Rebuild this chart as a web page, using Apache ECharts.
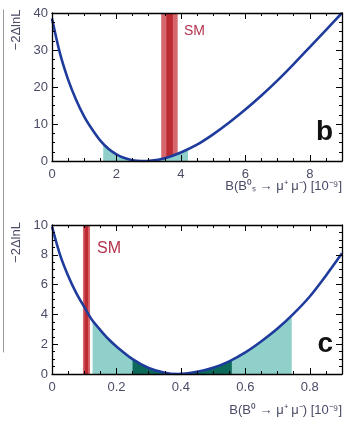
<!DOCTYPE html>
<html><head><meta charset="utf-8">
<script src="https://cdn.jsdelivr.net/npm/echarts@6/dist/echarts.min.js"></script>
<style>html,body{margin:0;padding:0;background:#fff}#c{width:349px;height:424px}</style>
</head><body><div id="c"></div>
<script>
// Panel b: -2ΔlnL vs B(Bs0 -> mu+ mu-) [1e-9]
const bsX = [0,0.25,0.5,0.75,1.0,1.25,1.5,1.75,2.0,2.25,2.5,2.78,3.1,3.5,4.0,4.5,5.0,5.5,6.0,6.5,7.0,7.5,8.0,8.5,9.0];
const bsY = [38.5,29,22,16.5,12,8.5,5.5,3.3,1.8,0.8,0.2,0,0.15,0.75,2.3,4.4,7.2,10.4,13.9,17.7,21.8,26.2,30.8,35.4,40];
const bsBand = [1.59, 4.22];          // shaded interval (x)
const bsBandEdgeY = [4.7, 3.2];       // curve height at the band edges (read)
const bsSM = [3.39, 3.90];
const bsSMcore = [3.55, 3.75];

// Panel c: -2ΔlnL vs B(B0 -> mu+ mu-) [1e-9]
const bdX = [0,0.025,0.05,0.075,0.1,0.125,0.15,0.175,0.2,0.25,0.3,0.35,0.39,0.45,0.5,0.55,0.6,0.65,0.7,0.75,0.8,0.85,0.9];
const bdY = [9.9,8.0,6.6,5.45,4.5,3.6,2.95,2.35,1.85,1.0,0.4,0.08,0,0.15,0.42,0.85,1.45,2.2,3.05,4.05,5.2,6.6,8.1];
const bdBand2 = [0.126, 0.744];       // light band
const bdBand2EdgeY = [3.55, 3.95];
const bdBand1 = [0.25, 0.558];        // dark band
const bdBand1EdgeY = [1.0, 0.95];
const bdSM = [0.096, 0.118];
const bdSMcore = [0.101, 0.112];

const xTicksB = [0, 9, 2];   // min, max, interval
const yTicksB = [0, 40, 10];
const xTicksC = [0, 0.9, 0.2];
const yTicksC = [0, 10, 2];

const yTitle = '\u22122\u0394lnL';
const xTitleB = 'B(B\u2070\u209B \u2192 \u03BC\u207A \u03BC\u207B) [10\u207B\u2079]';
const xTitleC = 'B(B\u2070 \u2192 \u03BC\u207A \u03BC\u207B) [10\u207B\u2079]';

const FONT = 'Liberation Sans, Arial, Helvetica, sans-serif';
const LBL = '#4a4c66';
const CURVE = '#1f3c9c';
const CYAN = '#8fd0cb';
const DARK = '#0d6a5b';
const RED_L = '#d6676c';
const RED_D = '#bc2a32';

function pairs(xs, ys){ return xs.map((x,i)=>[x, ys[i]]); }
function band(xs, ys, rng, edgeY){
  const inner = pairs(xs, ys).filter(p => p[0] > rng[0] && p[0] < rng[1]);
  return [[rng[0], edgeY[0]]].concat(inner, [[rng[1], edgeY[1]]]);
}
// full-height vertical band: spans the y axis from its min to its max
function vband(rng, yt){ return [[rng[0], yt[1]], [rng[1], yt[1]]]; }

function ax(grid, t, pos, labels, isX){
  const a = {type:'value', gridIndex:grid, position:pos, min:t[0], max:t[1], interval:t[2], z:10,
    axisLine:{show:true, onZero:false, lineStyle:{color:'#000', width:1.3}},
    axisTick:{show:true, inside:true, length:6, lineStyle:{color:'#000', width:1}},
    minorTick:{show:true, splitNumber:4, length:3, lineStyle:{color:'#000', width:1}},
    splitLine:{show:false},
    axisLabel: labels ? {show:true, margin:isX?7:4, color:LBL, fontFamily:FONT, fontSize:13, showMaxLabel:isX?false:true} : {show:false}
  };
  if (!isX && labels) {
    a.name = yTitle; a.nameLocation = 'middle'; a.nameRotate = 90; a.nameGap = 28;
    a.nameTextStyle = {color:LBL, fontFamily:FONT, fontSize:13, padding:[0,0,0,114]};
  }
  return a;
}
function ttl(text, pos, size, color, weight){
  return Object.assign({text:text, padding:0, itemGap:0,
    textStyle:{fontFamily:FONT, fontSize:size, color:color, fontWeight:weight||'normal'}}, pos);
}
function area(xi, yi, data, color, z){
  return {type:'line', xAxisIndex:xi, yAxisIndex:yi, data:data, showSymbol:false, z:z, silent:true,
    lineStyle:{width:0, opacity:0}, areaStyle:{color:color, opacity:1}};
}
function smoothArea(xi, yi, data, color, z){
  const s = area(xi, yi, data, color, z); s.smooth = 0.3; return s;
}

const chart = echarts.init(document.getElementById('c'), null, {renderer:'canvas'});
chart.setOption({
  animation:false,
  title:[
    ttl(xTitleB, {right:7, top:180}, 13, LBL),
    ttl(xTitleC, {right:7, top:404}, 13, LBL),
    ttl('SM', {left:184, top:24}, 14, '#b2334b'),
    ttl('SM', {left:97, top:241}, 16, '#b2334b'),
    ttl('b', {right:16, top:118}, 28, '#111', 'bold'),
    ttl('c', {right:16, top:330}, 28, '#111', 'bold')
  ],
  grid:[
    {left:52, right:7, top:13, height:148},
    {left:52, right:7, top:225, height:149},
    {left:3, width:1, top:10, height:342}
  ],
  xAxis:[ax(0,xTicksB,'bottom',true,true), ax(0,xTicksB,'top',false,true),
         ax(1,xTicksC,'bottom',true,true), ax(1,xTicksC,'top',false,true),
         {type:'value', gridIndex:2, show:false}],
  yAxis:[ax(0,yTicksB,'left',true,false), ax(0,yTicksB,'right',false,false),
         ax(1,yTicksC,'left',true,false), ax(1,yTicksC,'right',false,false),
         {type:'value', gridIndex:2, min:0, max:1, axisLine:{show:true, lineStyle:{color:'#9a9a9a', width:1}},
          axisTick:{show:false}, axisLabel:{show:false}, splitLine:{show:false}}],
  series:[
    area(0, 0, vband(bsSM, yTicksB), RED_L, 1),
    area(0, 0, vband(bsSMcore, yTicksB), RED_D, 1),
    smoothArea(0, 0, band(bsX,bsY,bsBand,bsBandEdgeY), CYAN, 2),
    {type:'line', xAxisIndex:0, yAxisIndex:0, data:pairs(bsX,bsY), smooth:0.3, showSymbol:false, z:4, silent:true,
     lineStyle:{color:CURVE, width:2.6}},
    area(2, 2, vband(bdSM, yTicksC), RED_L, 1),
    area(2, 2, vband(bdSMcore, yTicksC), RED_D, 1),
    smoothArea(2, 2, band(bdX,bdY,bdBand2,bdBand2EdgeY), CYAN, 2),
    smoothArea(2, 2, band(bdX,bdY,bdBand1,bdBand1EdgeY), DARK, 3),
    {type:'line', xAxisIndex:2, yAxisIndex:2, data:pairs(bdX,bdY), smooth:0.3, showSymbol:false, z:4, silent:true,
     lineStyle:{color:CURVE, width:2.6}}
  ]
});
</script></body></html>
